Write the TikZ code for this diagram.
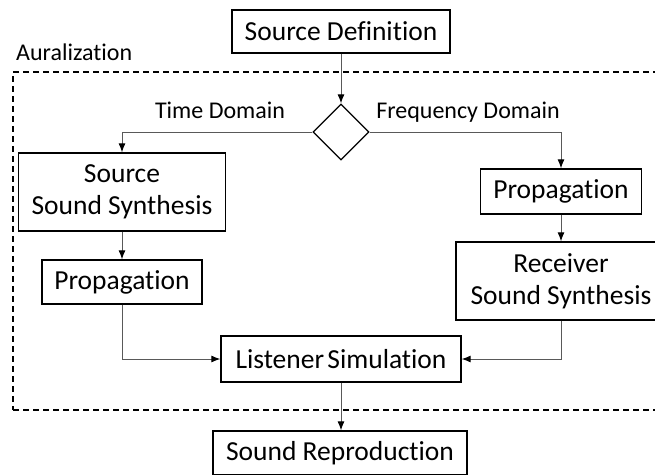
\documentclass[tikz,border=0pt]{standalone}
\usepackage{fontspec}
\setmainfont{Carlito}[RawFeature=-liga]
\usetikzlibrary{arrows.meta,shapes.geometric}
\begin{document}
\begin{tikzpicture}[x=1pt,y=-1pt,
  box/.style={draw=black,line width=1.3pt,inner sep=0pt,align=center,
    font=\fontsize{27.5}{32}\selectfont},
  lbl/.style={font=\fontsize{24}{28}\selectfont,inner sep=0pt},
  conn/.style={draw=black!65,line width=1pt,
    -{Latex[length=9pt,width=7pt,color=black]}},
  frame/.style={draw=black,line width=1.2pt,dash pattern=on 6pt off 4pt,inner sep=0pt}
]
\useasboundingbox (0,0) rectangle (655,474);
% frame
\node[frame,minimum width=649pt,minimum height=338pt] (aura) at (337.5,241) {};
\node[lbl,anchor=base west] (aurl) at (16,60) {Auralization};
% nodes
\node[box,minimum width=218pt,minimum height=43pt] (def) at (341,31.5) {Source Definition};
\node[draw=black,line width=1.3pt,diamond,minimum width=56pt,minimum height=56pt,inner sep=0pt] (dec) at (341,132) {};
\node[lbl,anchor=base] (td) at (220,118) {Time Domain};
\node[lbl,anchor=base] (fd) at (468,118) {Frequency Domain};
\node[box,minimum width=207pt,minimum height=78pt] (ssyn) at (122,192) {Source\\Sound Synthesis};
\node[box,minimum width=160pt,minimum height=44pt] (propl) at (122,282) {Propagation};
\node[box,minimum width=161pt,minimum height=45pt] (propr) at (561,191.5) {Propagation};
\node[box,minimum width=210pt,minimum height=78pt] (recv) at (561,281) {Receiver\\Sound Synthesis};
\node[box,minimum width=240pt,minimum height=46pt] (list) at (341,359) {Listener\hspace{0.12em}Simulation};
\node[box,minimum width=254pt,minimum height=44pt] (repro) at (340,453) {Sound Reproduction};
% connectors
\draw[conn] (def) -- (dec);
\draw[conn] (dec.west) -| (ssyn.north);
\draw[conn] (dec.east) -| (propr.north);
\draw[conn] (ssyn) -- (propl);
\draw[conn] (propr) -- (recv);
\draw[conn] (propl.south) |- (list.west);
\draw[conn] (recv.south) |- (list.east);
\draw[conn] (list.south) -- (repro.north -| list.south);
\end{tikzpicture}
\end{document}
